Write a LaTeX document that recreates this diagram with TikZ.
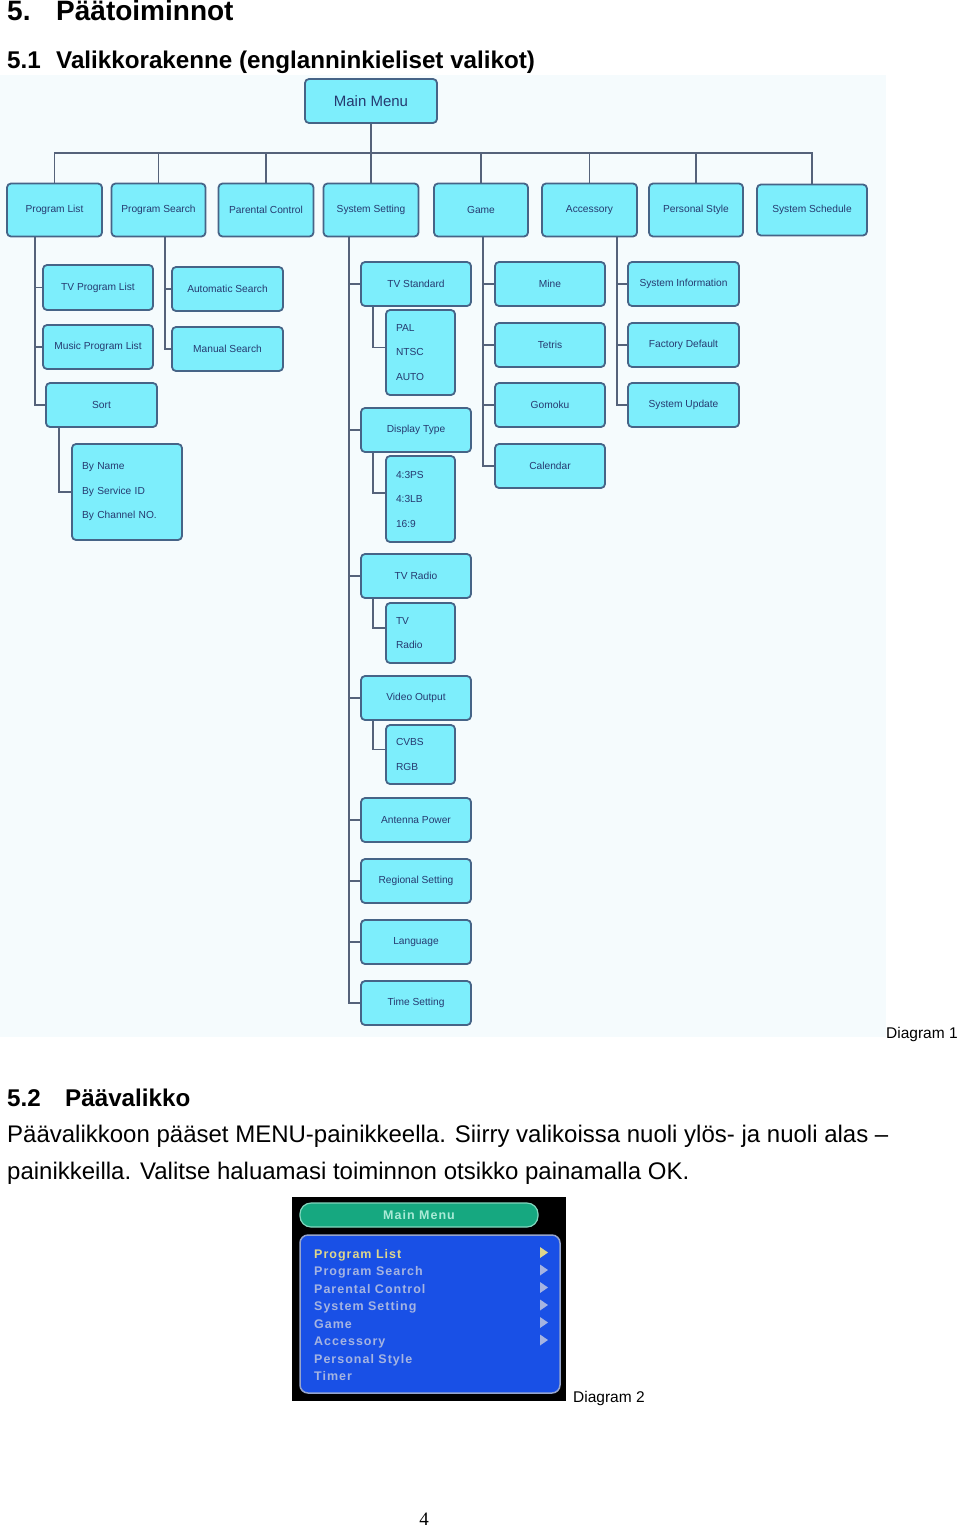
\documentclass[tikz,border=0pt]{standalone}
\usepackage{fontspec}
\setmainfont{Liberation Sans}
\newfontfamily\serifnum{Liberation Serif}
\newfontfamily\osdfont[LetterSpace=8]{Liberation Sans}
\usetikzlibrary{backgrounds}
\definecolor{boxfill}{RGB}{125,238,252}
\definecolor{boxline}{RGB}{70,100,135}
\definecolor{boxtext}{RGB}{38,58,112}
\definecolor{connline}{RGB}{85,98,122}
\definecolor{tint}{RGB}{245,251,253}
\definecolor{osdgreen}{RGB}{22,168,128}
\definecolor{osdgreenline}{RGB}{130,215,190}
\definecolor{osdgreentext}{RGB}{170,235,215}
\definecolor{osdblue}{RGB}{25,80,230}
\definecolor{osdblueline}{RGB}{150,165,205}
\definecolor{osditem}{RGB}{165,180,225}
\definecolor{osdsel}{RGB}{222,214,140}
\tikzset{
  mbox/.style={draw=boxline, line width=1.8pt, fill=boxfill, rounded corners=4pt,
    text=boxtext, font=\fontsize{10.2}{12}\selectfont, inner sep=0pt, minimum height=44pt},
  optbox/.style={mbox, align=left, inner xsep=10pt, inner ysep=0pt,
    font=\fontsize{10.2}{24.5}\selectfont},
  conn/.style={draw=connline, line width=1.8pt},
  heading/.style={anchor=base west, inner sep=0pt, font=\bfseries\fontsize{28}{32}\selectfont},
  subheading/.style={anchor=base west, inner sep=0pt, font=\bfseries\fontsize{24.2}{28}\selectfont},
  bodytext/.style={anchor=base west, inner sep=0pt, font=\fontsize{24}{28}\selectfont},
  caption/.style={anchor=base west, inner sep=0pt, font=\fontsize{15.5}{18}\selectfont},
  osditemstyle/.style={anchor=base west, inner sep=0pt, text=osditem,
    font=\osdfont\bfseries\fontsize{12.5}{14}\selectfont},
  osdarrow/.style={fill=osditem, draw=none},
}
\begin{document}
\begin{tikzpicture}[x=1pt, y=-1pt]
\useasboundingbox (0,0) rectangle (960,1528);

% headings
\node[heading] (h5num) at (7,21) {5.};
\node[heading] (h5) at (56,21) {Päätoiminnot};
\node[subheading] (h51num) at (7,68) {5.1};
\node[subheading] (h51) at (56,68) {Valikkorakenne (englanninkieliset valikot)};

% main menu
\node[mbox, minimum width=132pt, minimum height=44pt, font=\fontsize{15}{18}\selectfont] (mm) at (371,101) {Main Menu};

% top row
\node[mbox, minimum width=95pt, minimum height=53pt] (pl) at (54.5,210) {Program List};
\node[mbox, minimum width=94pt, minimum height=53pt] (ps) at (158.5,210) {Program Search};
\node[mbox, minimum width=95pt, minimum height=53pt] (pc) at (266,210) {Parental Control};
\node[mbox, minimum width=95pt, minimum height=53pt] (ss) at (371,210) {System Setting};
\node[mbox, minimum width=94pt, minimum height=53pt] (game) at (481,210) {Game};
\node[mbox, minimum width=95pt, minimum height=53pt] (acc) at (589.5,210) {Accessory};
\node[mbox, minimum width=94pt, minimum height=53pt] (pst) at (696,210) {Personal Style};
\node[mbox, minimum width=110pt, minimum height=51pt] (sch) at (812,210) {System Schedule};

% program list children
\node[mbox, minimum width=110pt, minimum height=45pt] (tvpl) at (98,287.5) {TV Program List};
\node[mbox, minimum width=110pt, minimum height=44pt] (mpl) at (98,347) {Music Program List};
\node[mbox, minimum width=111pt, minimum height=44pt] (sort) at (101.5,405) {Sort};
\node[optbox, text width=90pt, minimum height=96pt] (sortopts) at (127,492) {By Name\\By Service ID\\By Channel NO.};

% program search children
\node[mbox, minimum width=111pt, minimum height=44pt] (autos) at (227.5,289) {Automatic Search};
\node[mbox, minimum width=111pt, minimum height=44pt] (mans) at (227.5,349) {Manual Search};

% system setting children
\node[mbox, minimum width=110pt] (tvstd) at (416,284) {TV Standard};
\node[optbox, text width=49pt, minimum height=85pt] (stdopts) at (420.5,352.5) {PAL\\NTSC\\AUTO};
\node[mbox, minimum width=110pt] (disp) at (416,430) {Display Type};
\node[optbox, text width=49pt, minimum height=86pt] (dispopts) at (420.5,499) {4:3PS\\4:3LB\\16:9};
\node[mbox, minimum width=110pt] (tvr) at (416,576) {TV Radio};
\node[optbox, text width=49pt, minimum height=60pt] (tvropts) at (420.5,633) {TV\\Radio};
\node[mbox, minimum width=110pt] (vout) at (416,698) {Video Output};
\node[optbox, text width=49pt, minimum height=59pt] (voutopts) at (420.5,754.5) {CVBS\\RGB};
\node[mbox, minimum width=110pt] (ant) at (416,820) {Antenna Power};
\node[mbox, minimum width=110pt] (reg) at (416,881) {Regional Setting};
\node[mbox, minimum width=110pt] (lang) at (416,942) {Language};
\node[mbox, minimum width=110pt] (time) at (416,1003) {Time Setting};

% game children
\node[mbox, minimum width=110pt] (mine) at (550,284) {Mine};
\node[mbox, minimum width=110pt] (tetris) at (550,345) {Tetris};
\node[mbox, minimum width=110pt] (gomoku) at (550,405) {Gomoku};
\node[mbox, minimum width=110pt] (cal) at (550,466) {Calendar};

% accessory children
\node[mbox, minimum width=111pt] (sysinfo) at (683.5,284) {System Information};
\node[mbox, minimum width=111pt] (factory) at (683.5,345) {Factory Default};
\node[mbox, minimum width=111pt] (sysupd) at (683.5,405) {System Update};

% connectors
\coordinate (bus) at (0,153);
\coordinate (plx) at (35,0);
\coordinate (sox) at (59,0);
\coordinate (psx) at (165,0);
\coordinate (ssx) at (349,0);
\coordinate (subx) at (373,0);
\coordinate (gx) at (483,0);
\coordinate (ax) at (617,0);
\begin{pgfonlayer}{background}
\fill[white] (0,0) rectangle (960,1528);
\fill[tint] (0,75) rectangle (886,1037);
\draw[conn] (pl.north) -- (pl.north |- bus) -- (sch.north |- bus) -- (sch.north);
\foreach \n in {ps,pc,ss,game,acc,pst} \draw[conn] (\n.north) -- (\n.north |- bus);
\draw[conn] (mm.south) -- (mm.south |- bus);
% program list
\draw[conn] (pl.south -| plx) |- (sort.west);
\foreach \n in {tvpl,mpl} \draw[conn] (\n.west) -- (\n.west -| plx);
\draw[conn] (sort.south -| sox) |- (sortopts.west);
% program search
\draw[conn] (ps.south -| psx) |- (mans.west);
\draw[conn] (autos.west) -- (autos.west -| psx);
% system setting
\draw[conn] (ss.south -| ssx) |- (time.west);
\foreach \n in {tvstd,disp,tvr,vout,ant,reg,lang} \draw[conn] (\n.west) -- (\n.west -| ssx);
\draw[conn] (tvstd.south -| subx) |- ([yshift=5pt]stdopts.west);
\draw[conn] (disp.south -| subx) |- ([yshift=6pt]dispopts.west);
\draw[conn] (tvr.south -| subx) |- ([yshift=5pt]tvropts.west);
\draw[conn] (vout.south -| subx) |- ([yshift=5pt]voutopts.west);
% game
\draw[conn] (game.south -| gx) |- (cal.west);
\foreach \n in {mine,tetris,gomoku} \draw[conn] (\n.west) -- (\n.west -| gx);
% accessory
\draw[conn] (acc.south -| ax) |- (sysupd.west);
\foreach \n in {sysinfo,factory} \draw[conn] (\n.west) -- (\n.west -| ax);
\end{pgfonlayer}

% captions and text
\node[caption] (cap1) at (886,1038) {Diagram 1};
\node[subheading] (h52num) at (7,1106) {5.2};
\node[subheading] (h52) at (65,1106) {Päävalikko};
\node[bodytext] (para1) at (7,1142) {Päävalikkoon pääset MENU-painikkeella. Siirry valikoissa nuoli ylös- ja nuoli alas –};
\node[bodytext] (para2) at (7,1179) {painikkeilla. Valitse haluamasi toiminnon otsikko painamalla OK.};

% OSD screenshot
\fill[black] (292,1197) rectangle (566,1401);
\node[draw=osdgreenline, line width=1.2pt, fill=osdgreen, rounded corners=11pt,
  minimum width=238pt, minimum height=24pt, inner sep=0pt, text=osdgreentext,
  font=\osdfont\bfseries\fontsize{12.5}{14}\selectfont] (osdtitle) at (419,1215) {Main Menu};
\node[draw=osdblueline, line width=1.5pt, fill=osdblue, rounded corners=8pt,
  minimum width=260pt, minimum height=158pt, inner sep=0pt] (osdpanel) at (430,1314) {};
\node[osditemstyle, text=osdsel] (i1) at (314,1258) {Program List};
\node[osditemstyle] (i2) at (314,1275.5) {Program Search};
\node[osditemstyle] (i3) at (314,1293) {Parental Control};
\node[osditemstyle] (i4) at (314,1310.5) {System Setting};
\node[osditemstyle] (i5) at (314,1328) {Game};
\node[osditemstyle] (i6) at (314,1345.5) {Accessory};
\node[osditemstyle] (i7) at (314,1363) {Personal Style};
\node[osditemstyle] (i8) at (314,1380.5) {Timer};
\fill[fill=osdsel] (540,1247) -- (548,1252.5) -- (540,1258) -- cycle;
\foreach \yy in {1270,1287.5,1305,1322.5,1340}
  \fill[osdarrow] (540,\yy-5.5) -- (548,\yy) -- (540,\yy+5.5) -- cycle;
\node[caption] (cap2) at (573,1402) {Diagram 2};

% page number
\node[anchor=base, inner sep=0pt, font=\serifnum\fontsize{19}{22}\selectfont] (pageno) at (424,1525) {4};
\end{tikzpicture}
\end{document}
